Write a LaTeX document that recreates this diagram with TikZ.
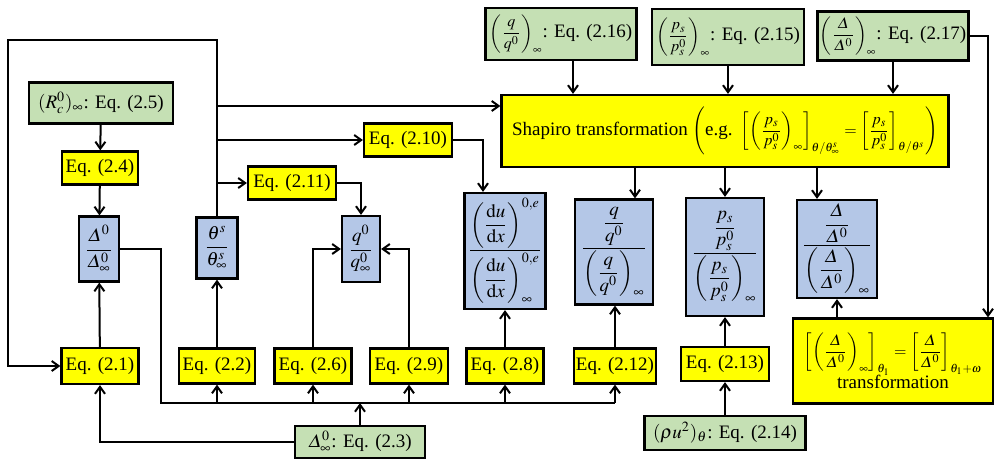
\documentclass[tikz,border=0pt]{standalone}
\usepackage{amsmath}
\usepackage{mathptmx}
\usepackage{fontspec}
\setmainfont{Liberation Serif}
\usepackage{xcolor}
\usetikzlibrary{positioning,arrows.meta,calc}

\definecolor{eqyellow}{HTML}{FFFF00}
\definecolor{givengreen}{HTML}{C5E0B4}
\definecolor{ratioblue}{HTML}{B4C7E7}
\newcommand{\smallmath}[1]{{\fontsize{8}{9}\selectfont$#1$}}

\begin{document}
\begin{tikzpicture}[x=0.5pt, y=-0.5pt,
  box/.style={draw, line width=1.1pt, inner sep=1pt, align=center, font=\fontsize{9.5}{11}\selectfont},
  sz/.style 2 args={minimum width=#1*0.5pt, minimum height=#2*0.5pt},
  eq/.style={box, fill=eqyellow},
  given/.style={box, fill=givengreen},
  ratio/.style={box, fill=ratioblue},
  arr/.style={-{Straight Barb[length=3.5pt,width=5pt]}, line width=1pt},
  line/.style={line width=1pt},
]
\useasboundingbox (0,0) rectangle (995,461);

\node[given, sz={144}{41}] (rc) at (101,103) {$(R_c^0)_\infty$: Eq. (2.5)};
\node[eq, sz={76}{33}] (e24) at (100,168) {Eq. (2.4)};
\node[ratio, sz={40}{65}] (dr) at (99,249) {$\dfrac{\varDelta^0}{\varDelta^0_\infty}$};
\node[ratio, sz={41}{61}] (th) at (217,248) {$\dfrac{\theta^s}{\theta^s_\infty}$};
\node[eq, sz={77}{36}] (e21) at (100,366) {Eq. (2.1)};
\node[eq, sz={76}{35}] (e22) at (217,366) {Eq. (2.2)};
\node[eq, sz={77}{35}] (e26) at (313,366) {Eq. (2.6)};
\node[eq, sz={78}{35}] (e29) at (409,366) {Eq. (2.9)};
\node[eq, sz={77}{35}] (e28) at (505,366) {Eq. (2.8)};
\node[eq, sz={79}{35}] (e212) at (615,366) {Eq. (2.12)};
\node[eq, sz={88}{34}] (e213) at (725,364) {Eq. (2.13)};
\node[given, sz={130}{32}] (d3) at (360,442) {$\varDelta^0_\infty$: Eq. (2.3)};
\node[given, sz={161}{34}] (rho) at (725,433) {$(\rho u^2)_\theta$: Eq. (2.14)};
\node[eq, sz={88}{33}] (e211) at (292,183) {Eq. (2.11)};
\node[ratio, sz={38}{66}] (q0) at (361,249) {$\dfrac{q^0}{q^0_\infty}$};
\node[eq, sz={88}{33}] (e210) at (408,140) {Eq. (2.10)};
\node[ratio, sz={81}{116}] (du) at (505,251) {$\dfrac{\left(\dfrac{\mathrm{d}u}{\mathrm{d}x}\right)^{0,e}}{\left(\dfrac{\mathrm{d}u}{\mathrm{d}x}\right)^{0,e}_{\infty}}$};
\node[ratio, sz={78}{105}] (qq) at (614,252) {$\dfrac{\dfrac{q}{q^0}}{\left(\dfrac{q}{q^0}\right)_{\infty}}$};
\node[ratio, sz={78}{118}] (ps) at (725,257) {$\dfrac{\dfrac{p_s}{p_s^0}}{\left(\dfrac{p_s}{p_s^0}\right)_{\infty}}$};
\node[ratio, sz={80}{98}] (dd) at (837,249) {$\dfrac{\dfrac{\varDelta}{\varDelta^0}}{\left(\dfrac{\varDelta}{\varDelta^0}\right)_{\infty}}$};
\node[eq, sz={200}{85}] (tr) at (893,361) {\smallmath{\left[\left(\dfrac{\varDelta}{\varDelta^0}\right)_{\infty}\right]_{\theta_1}=\left[\dfrac{\varDelta}{\varDelta^0}\right]_{\theta_1+\omega}}\\[-1pt]transformation};
\node[eq, sz={447}{72}] (sh) at (725,131) {Shapiro transformation \smallmath{\left(\text{\fontsize{9.5}{11}\selectfont e.g. }\left[\left(\dfrac{p_s}{p_s^0}\right)_{\infty}\right]_{\theta/\theta^s_\infty}=\left[\dfrac{p_s}{p_s^0}\right]_{\theta/\theta^s}\right)}};
\node[given, sz={151}{52}] (g216) at (561,34) {\smallmath{\left(\dfrac{q}{q^0}\right)_{\infty}}: Eq. (2.16)};
\node[given, sz={152}{56}] (g215) at (728,37) {\smallmath{\left(\dfrac{p_s}{p_s^0}\right)_{\infty}}: Eq. (2.15)};
\node[given, sz={151}{49}] (g217) at (893,36) {\smallmath{\left(\dfrac{\varDelta}{\varDelta^0}\right)_{\infty}}: Eq. (2.17)};

\coordinate (tl) at (8,40);
\coordinate (busL) at (161,403);
\coordinate (shin) at ([yshift=12.5pt]sh.west);

\draw[arr] (rc) -- (e24);
\draw[arr] (e24) -- (dr);
\draw[arr] (e21) -- (dr);
\draw[arr] (e22) -- (th);
\draw[arr] (th.north) |- (tl) |- (e21.west);
\draw[arr] (th.north |- shin) -- (shin);
\draw[arr] (th.north |- e210.west) -- (e210.west);
\draw[arr] (th.north |- e211.west) -- (e211.west);
\draw[arr] (e211.east) -| (q0.north);
\draw[arr] (e26.north) |- (q0.west);
\draw[arr] (e29.north) |- (q0.east);
\draw[arr] (e210.east) -| ([xshift=-11pt]du.north);
\draw[arr] (e28) -- (du);
\draw[arr] (e212) -- (qq.south -| e212.north);
\draw[arr] (e213) -- (ps);
\draw[arr] (rho) -- (e213);
\draw[line] (dr.east) -| (busL) -- (e212.south |- busL);
\foreach \e in {e22,e26,e29,e28,e212} {\draw[arr] (\e.south |- busL) -- (\e.south);}
\draw[arr] (d3.north) -- (d3.north |- busL);
\draw[arr] (d3.west) -| (e21.south);
\draw[arr] ([xshift=6pt]g216.south) -- ([xshift=6pt]g216.south |- sh.north);
\draw[arr] (g215.south) -- (g215.south |- sh.north);
\draw[arr] (g217.south) -- (g217.south |- sh.north);
\draw[arr] (g217.east) -| ([xshift=47.5pt]tr.north);
\draw[arr] ([xshift=10.5pt]qq.north |- sh.south) -- ([xshift=10.5pt]qq.north);
\draw[arr] (ps.north |- sh.south) -- (ps.north);
\draw[arr] ([xshift=-10pt]dd.north |- sh.south) -- ([xshift=-10pt]dd.north);
\draw[arr] (tr.north -| dd.south) -- (dd.south);
\end{tikzpicture}
\end{document}
